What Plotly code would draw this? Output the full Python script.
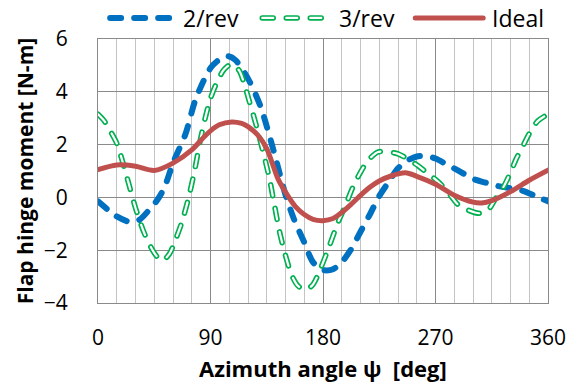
import plotly.graph_objects as go

# Azimuth samples (deg) and flap hinge moment (N-m) for each actuation case
psi_2rev = [0, 8, 15, 25, 33, 41, 47, 53, 60, 70, 78, 90, 98, 104, 110, 120, 130, 140,
            150, 157, 165, 172, 180, 188, 195, 202, 210, 218, 225, 232, 240, 247, 255,
            263, 270, 280, 290, 300, 310, 320, 330, 340, 350, 360]
m_2rev = [-0.15, -0.47, -0.72, -0.92, -0.85, -0.47, -0.13, 0.36, 1.3, 2.4, 3.7, 4.9,
          5.25, 5.35, 5.2, 4.5, 3.45, 1.85, 0.1, -0.85, -1.7, -2.45, -2.75, -2.72,
          -2.45, -2.0, -1.3, -0.6, 0.05, 0.55, 1.1, 1.38, 1.55, 1.57, 1.47, 1.22, 0.97,
          0.7, 0.56, 0.43, 0.35, 0.25, 0.05, -0.15]

psi_3rev = [0, 5, 10, 15, 20, 25, 30, 37, 45, 51, 57, 62, 67, 72, 77, 82, 86, 90, 96,
            101, 107, 113, 117, 121, 125, 129, 133, 137, 141, 145, 150, 155, 160, 166,
            172, 178, 185, 192, 198, 204, 210, 216, 224, 232, 240, 248, 256, 264, 272,
            280, 288, 297, 305, 312, 318, 325, 330, 335, 340, 346, 352, 360]
m_3rev = [3.15, 2.9, 2.5, 2.05, 1.3, 0.45, -0.4, -1.35, -2.1, -2.4, -2.15, -1.6, -0.95,
          -0.1, 0.95, 2.2, 3.05, 3.75, 4.45, 4.85, 5.05, 4.8, 4.3, 3.65, 3.0, 2.3, 1.55,
          0.75, -0.25, -1.25, -2.2, -2.95, -3.35, -3.5, -3.3, -2.7, -1.85, -0.95, -0.3,
          0.4, 0.95, 1.4, 1.72, 1.72, 1.65, 1.45, 1.2, 0.9, 0.6, 0.2, -0.27, -0.5, -0.6,
          -0.48, -0.05, 0.45, 0.95, 1.5, 1.95, 2.5, 2.9, 3.15]

psi_ideal = [0, 15, 30, 45, 60, 75, 85, 90, 97, 107, 115, 120, 128, 135, 144, 150, 158,
             165, 172, 180, 188, 195, 202, 210, 218, 225, 235, 246, 255, 270, 285, 300,
             307, 315, 330, 345, 360]
m_ideal = [1.05, 1.23, 1.18, 1.02, 1.3, 1.8, 2.3, 2.52, 2.75, 2.86, 2.8, 2.68, 2.35,
           1.85, 0.7, 0.2, -0.35, -0.65, -0.83, -0.88, -0.8, -0.57, -0.28, 0.08, 0.4,
           0.62, 0.82, 0.93, 0.8, 0.5, 0.08, -0.18, -0.21, -0.12, 0.22, 0.65, 1.03]

series_names = ["2/rev", "3/rev", "Ideal"]
x_ticks = [0, 90, 180, 270, 360]
y_ticks = [-4, -2, 0, 2, 4, 6]

BLUE = "#0070C0"
GREEN = "#00B050"
RED = "#C0504D"
GRID_MAJOR = "#8a8a8a"
GRID_MINOR = "#c4c4c4"
DASH = "11px,13px"
FONT = "'Open Sans', Lato, sans-serif"

fig = go.Figure()

fig.add_trace(go.Scatter(
    x=psi_2rev, y=m_2rev, name=series_names[0], mode="lines",
    line=dict(color=BLUE, width=6, dash=DASH, shape="spline", smoothing=0.8),
))
# hollow dashes: wide green stroke with a thin white stroke on the same path
fig.add_trace(go.Scatter(
    x=psi_3rev, y=m_3rev, name=series_names[1], mode="lines",
    line=dict(color=GREEN, width=5.5, dash=DASH, shape="spline", smoothing=0.8),
))
fig.add_trace(go.Scatter(
    x=psi_3rev, y=m_3rev, name=series_names[1] + " core", mode="lines",
    line=dict(color="white", width=2.2, dash=DASH, shape="spline", smoothing=0.8),
    showlegend=False, hoverinfo="skip",
))
fig.add_trace(go.Scatter(
    x=psi_ideal, y=m_ideal, name=series_names[2], mode="lines",
    line=dict(color=RED, width=5, shape="spline", smoothing=0.8),
))

# legend row above the plot (paper coordinates)
legend_y = 1.08
legend_items = [
    (0.027, 0.166, 0.185, BLUE, 6, None),
    (0.365, 0.503, 0.530, GREEN, 5.5, "white"),
    (0.705, 0.856, 0.872, RED, 5, None),
]
shapes = []
annotations = []
for (x0, x1, xt, col, w, core), label in zip(legend_items, series_names):
    dash = "solid" if label == "Ideal" else DASH
    shapes.append(dict(type="line", xref="paper", yref="paper", x0=x0, x1=x1,
                       y0=legend_y, y1=legend_y, line=dict(color=col, width=w, dash=dash)))
    if core:
        shapes.append(dict(type="line", xref="paper", yref="paper", x0=x0, x1=x1,
                           y0=legend_y, y1=legend_y, line=dict(color=core, width=2.2, dash=dash)))
    annotations.append(dict(text=label, xref="paper", yref="paper", x=xt, y=legend_y,
                            xanchor="left", yanchor="middle", showarrow=False,
                            font=dict(family=FONT, size=23, color="black")))

annotations.append(dict(text="<b>Azimuth angle \u03c8\u00a0\u00a0[deg]</b>", xref="paper", yref="paper",
                        x=0.5, y=-0.248, xanchor="center", yanchor="middle", showarrow=False,
                        font=dict(family=FONT, size=22, color="black")))
annotations.append(dict(text="<b>Flap hinge moment [N-m]</b>", xref="paper", yref="paper",
                        x=-0.1616, y=0.5, xanchor="center", yanchor="middle", showarrow=False,
                        textangle=-90, font=dict(family=FONT, size=21, color="black")))

fig.update_layout(
    width=580, height=385,
    margin=dict(l=98, r=32, t=39, b=82),
    paper_bgcolor="white", plot_bgcolor="white",
    showlegend=False,
    shapes=shapes,
    annotations=annotations,
    font=dict(family=FONT, size=21, color="black"),
)
fig.update_xaxes(
    range=[0, 360], tickvals=x_ticks, ticks="", ticklabelstandoff=16,
    showgrid=True, gridcolor=GRID_MAJOR, gridwidth=1,
    minor=dict(dtick=15, tick0=0, showgrid=True, gridcolor=GRID_MINOR, gridwidth=1),
    showline=True, linecolor=GRID_MAJOR, linewidth=1, mirror=True, zeroline=False,
    tickfont=dict(family=FONT, size=21, color="black"),
)
fig.update_yaxes(
    range=[-4, 6], tickvals=y_ticks, ticks="", ticklabelstandoff=25,
    showgrid=True, gridcolor=GRID_MAJOR, gridwidth=1,
    showline=True, linecolor=GRID_MAJOR, linewidth=1, mirror=True, zeroline=False,
    tickfont=dict(family=FONT, size=21, color="black"),
)

round_caps = """
var gd = document.getElementById('{plot_id}');
function roundCaps() {
  gd.querySelectorAll('.scatterlayer path.js-line, .shapelayer path').forEach(function (p) {
    p.style.strokeLinecap = 'round';
    p.style.strokeLinejoin = 'round';
  });
}
roundCaps();
gd.on('plotly_afterplot', roundCaps);
"""

fig.write_html("out.html", post_script=round_caps)
